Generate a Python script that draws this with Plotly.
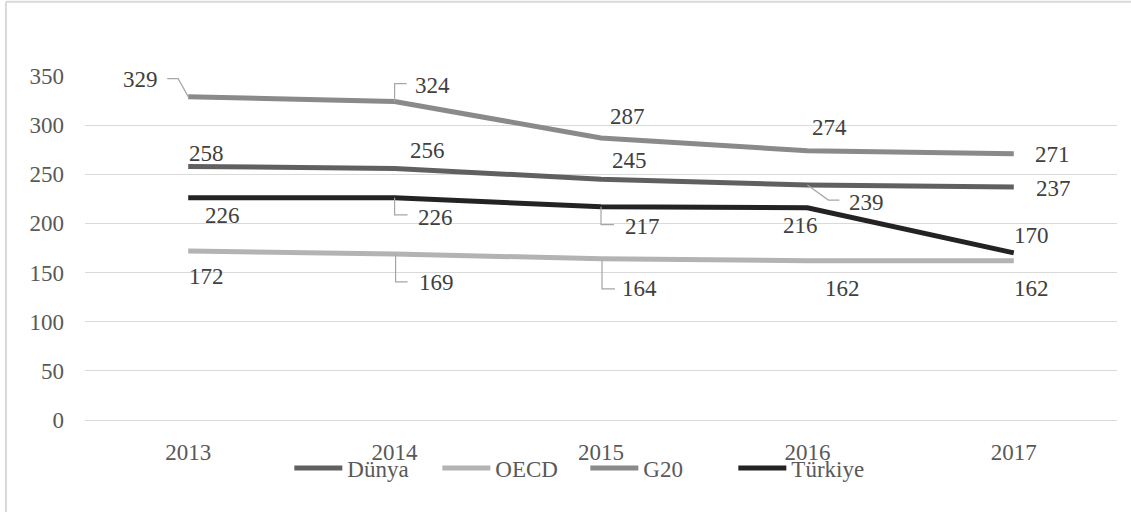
import plotly.graph_objects as go

# ---- data ----
years = ["2013", "2014", "2015", "2016", "2017"]
dunya = [258, 256, 245, 239, 237]
oecd = [172, 169, 164, 162, 162]
g20 = [329, 324, 287, 274, 271]
turkiye = [226, 226, 217, 216, 170]
y_ticks = [0, 50, 100, 150, 200, 250, 300, 350]

series_names = ["Dünya", "OECD", "G20", "Türkiye"]
series_values = [dunya, oecd, g20, turkiye]

# ---- styles / label placement (pixels) ----
colors = {"Dünya": "#606060", "OECD": "#b3b3b3", "G20": "#8a8a8a", "Türkiye": "#232323"}
label_shift = {
    "G20": [(-48, 17), (38, 16), (26.5, 21), (21.6, 23.4), (38.7, -1.3)],
    "Dünya": [(17.8, 13.1), (33, 17.6), (28, 19), (58.6, -17.7), (39.2, -1.2)],
    "Türkiye": [(33.8, -17.4), (40.4, -19.4), (41, -19.6), (-7.4, -17.6), (17.2, 17.6)],
    "OECD": [(17.8, -25.4), (41.4, -29), (38, -29.6), (35, -27.6), (17.2, -27.6)],
}
leaders = {
    "G20": {0: [(0, 0), (-10, 18), (-21, 18)], 1: [(0, 0), (0, 18), (12, 18)]},
    "Dünya": {3: [(0, 0), (21, -15), (32, -15)]},
    "Türkiye": {1: [(0, 0), (0, -17), (13, -17)], 2: [(0, 0), (0, -18), (13, -18)]},
    "OECD": {1: [(1, -1), (1, -28), (13, -28)], 2: [(1, -2), (1, -30), (14, -30)]},
}

FONT = "Liberation Serif"
xs = list(range(len(years)))

fig = go.Figure()
annotations = []
shapes = []
for name, vals in zip(series_names, series_values):
    fig.add_trace(go.Scatter(
        x=xs, y=vals, mode="lines", name=name,
        line=dict(color=colors[name], width=5),
        hoverinfo="skip",
    ))
    for i, v in enumerate(vals):
        dx, dy = label_shift[name][i]
        annotations.append(dict(
            x=xs[i], y=v, xref="x", yref="y", text=str(v), showarrow=False,
            xshift=dx, yshift=dy, xanchor="center", yanchor="middle",
            font=dict(family=FONT, size=23, color="#404040"),
        ))
    for i, pts in leaders.get(name, {}).items():
        path = "M" + " L".join(f"{px},{py}" for px, py in pts)
        shapes.append(dict(
            type="path", xref="x", yref="y", xsizemode="pixel", ysizemode="pixel",
            xanchor=xs[i], yanchor=vals[i], path=path,
            line=dict(color="#a6a6a6", width=1.2),
        ))

# chart border (left and top edges visible)
shapes.append(dict(type="line", xref="paper", yref="paper", x0=-0.0766, x1=-0.0766,
                   y0=-0.5, y1=1.216, line=dict(color="#d9d9d9", width=2)))
shapes.append(dict(type="line", xref="paper", yref="paper", x0=-0.0766, x1=1.2,
                   y0=1.216, y1=1.216, line=dict(color="#d9d9d9", width=2)))

fig.update_layout(
    width=1131, height=512,
    margin=dict(l=85, r=14, t=76, b=92, pad=0),
    paper_bgcolor="white", plot_bgcolor="white",
    font=dict(family=FONT, color="#595959"),
    showlegend=True,
    legend=dict(orientation="h", x=0.198, xanchor="left", y=-0.14, yanchor="middle",
                entrywidth=85, entrywidthmode="pixels", itemwidth=48,
                font=dict(family=FONT, size=23, color="#595959"),
                bgcolor="rgba(0,0,0,0)"),
    annotations=annotations,
    shapes=shapes,
    xaxis=dict(range=[-0.5, len(years) - 0.5], tickvals=xs, ticktext=years,
               showgrid=False, zeroline=False, showline=False, ticks="",
               tickfont=dict(family=FONT, size=23, color="#595959"),
               ticklabelstandoff=16),
    yaxis=dict(range=[0, 350], tickvals=y_ticks, showgrid=True, gridcolor="#d9d9d9",
               gridwidth=1, zeroline=True, zerolinecolor="#d9d9d9", zerolinewidth=1,
               showline=False, ticks="",
               tickfont=dict(family=FONT, size=23, color="#595959"),
               ticklabelstandoff=20),
)

fig.write_html("out.html")
